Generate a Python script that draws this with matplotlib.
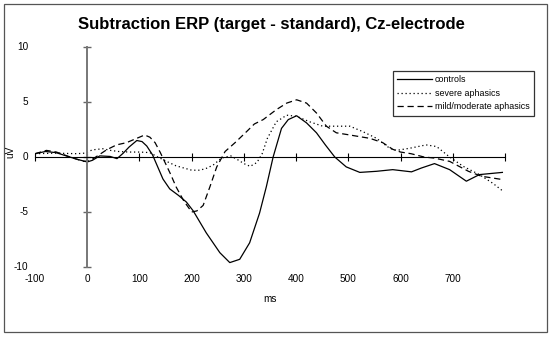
import matplotlib
matplotlib.use("Agg")
import matplotlib.pyplot as plt
import matplotlib.patches as patches
import matplotlib.transforms as mtransforms

plt.rcParams["font.family"] = ["Liberation Sans", "DejaVu Sans"]

# ---------------------------------------------------------------------------
# Data
# ---------------------------------------------------------------------------

ms_controls = [-100, -80, -60, -40, -20, 0, 10, 24, 44, 57, 69, 80, 95, 105,
               114, 125, 135, 145, 158, 175, 190, 203, 228, 254, 273, 292,
               311, 330, 343, 356, 372, 385, 401, 420, 439, 456, 474, 496,
               522, 554, 585, 621, 640, 665, 694, 726, 751, 795]
uv_controls = [0.3, 0.5, 0.4, 0.1, -0.2, -0.45, -0.3, 0.1, 0.05, -0.15, 0.35,
               0.9, 1.5, 1.4, 1.0, 0.2, -0.9, -2.0, -2.9, -3.5, -4.1, -4.9,
               -6.9, -8.7, -9.6, -9.3, -7.8, -5.1, -2.7, 0.0, 2.6, 3.4, 3.75,
               3.1, 2.2, 1.1, 0.0, -0.9, -1.4, -1.3, -1.15, -1.35, -1.0, -0.6,
               -1.15, -2.2, -1.6, -1.4]

ms_severe = [-100, -60, -20, -5, 10, 30, 45, 60, 80, 100, 120, 135, 152, 170,
             185, 200, 216, 230, 242, 257, 275, 290, 300, 312, 325, 335, 345,
             362, 382, 401, 426, 451, 484, 503, 528, 554, 579, 592, 618, 649,
             669, 694, 720, 751, 777, 796]
uv_severe = [0.3, 0.35, 0.3, 0.35, 0.65, 0.75, 0.6, 0.5, 0.45, 0.45, 0.4, 0.0,
             -0.4, -0.8, -1.0, -1.2, -1.2, -1.0, -0.7, -0.1, 0.1, -0.3, -0.6,
             -0.85, -0.5, 0.3, 1.7, 3.2, 3.8, 3.7, 3.2, 2.8, 2.8, 2.8, 2.3,
             1.7, 0.8, 0.6, 0.8, 1.1, 0.95, 0.0, -0.85, -1.6, -2.4, -3.1]

ms_mild = [-100, -78, -59, -33, -7, 5, 18, 37, 56, 75, 95, 110, 120, 130, 140,
           150, 160, 170, 185, 200, 210, 222, 235, 248, 264, 283, 305, 320,
           337, 362, 382, 401, 420, 439, 458, 477, 503, 528, 541, 566, 585,
           600, 620, 645, 665, 694, 730, 755, 795]
uv_mild = [0.3, 0.6, 0.45, 0.0, -0.4, -0.35, 0.05, 0.65, 1.1, 1.3, 1.7, 2.0,
           1.8, 1.3, 0.4, -0.6, -1.6, -2.7, -4.0, -5.0, -4.9, -4.4, -2.7, -0.9,
           0.5, 1.3, 2.3, 3.0, 3.4, 4.3, 4.9, 5.2, 4.9, 4.0, 2.8, 2.2, 2.0,
           1.8, 1.7, 1.3, 0.7, 0.45, 0.3, 0.0, -0.1, -0.4, -1.3, -1.75, -2.05]

series_labels = ["controls", "severe aphasics", "mild/moderate aphasics"]

x_ticks = [-100, 0, 100, 200, 300, 400, 500, 600, 700, 800]
x_tick_labels = ["-100", "0", "100", "200", "300", "400", "500", "600", "700"]
y_ticks = [-10, -5, 0, 5, 10]
y_tick_labels = ["-10", "-5", "0", "5", "10"]

# ---------------------------------------------------------------------------
# Plot
# ---------------------------------------------------------------------------

fig = plt.figure(figsize=(5.51, 3.37), dpi=100)
fig.patch.set_facecolor("white")

# outer chart border
fig.add_artist(patches.Rectangle(
    (4 / 551, 5 / 337), 543 / 551, 328 / 337,
    transform=fig.transFigure, fill=False, edgecolor="#555555", linewidth=0.9))

ax = fig.add_axes([35 / 551, 70 / 337, 470 / 551, 220 / 337])
ax.set_xlim(-100, 800)
ax.set_ylim(-10, 10)

ax.plot(ms_controls, uv_controls, color="black", linestyle="-",
        linewidth=0.9, label=series_labels[0])
ax.plot(ms_severe, uv_severe, color="black", linestyle=(0, (1, 2.2)),
        linewidth=0.9, label=series_labels[1])
ax.plot(ms_mild, uv_mild, color="black", linestyle=(0, (5, 3)),
        linewidth=0.9, label=series_labels[2])

# axes crossing at zero
for side in ["top", "right"]:
    ax.spines[side].set_visible(False)
ax.spines["left"].set_position(("data", 0))
ax.spines["left"].set_color("#777777")
ax.spines["left"].set_linewidth(1.4)
ax.spines["bottom"].set_position(("data", 0))
ax.spines["bottom"].set_color("black")
ax.spines["bottom"].set_linewidth(0.8)

ax.set_xticks(x_ticks)
ax.set_yticks(y_ticks)
ax.tick_params(axis="x", direction="inout", length=6, width=0.8,
               color="black", labelbottom=False)
ax.tick_params(axis="y", direction="inout", length=6, width=1.0,
               color="#666666", labelleft=False)

# tick labels sit at the low edges, like Excel
ylab_tr = mtransforms.blended_transform_factory(ax.transAxes, ax.transData)
for v, s in zip(y_ticks, y_tick_labels):
    ax.text(-0.014, v, s, transform=ylab_tr, ha="right", va="center",
            fontsize=7.2)
xlab_tr = mtransforms.blended_transform_factory(ax.transData, ax.transAxes)
for v, s in zip(x_ticks, x_tick_labels):
    ax.text(v, -0.03, s, transform=xlab_tr, ha="center", va="top",
            fontsize=7.2)

fig.text(270 / 551, 1 - 299 / 337, "ms", ha="center", va="center",
         fontsize=7.2)
fig.text(10 / 551, 1 - 152 / 337, "uV", ha="center", va="center",
         rotation=90, fontsize=7.2)

fig.text(271 / 551, 1 - 24 / 337, "Subtraction ERP (target - standard), Cz-electrode",
         ha="center", va="center", fontsize=12, fontweight="bold")

leg = ax.legend(loc="upper left", bbox_to_anchor=(393 / 551, 1 - 71 / 337),
                bbox_transform=fig.transFigure, fontsize=6.4, frameon=True,
                fancybox=False, borderpad=0.5, handlelength=3.9,
                handletextpad=0.3, labelspacing=0.5, borderaxespad=0)
leg.get_frame().set_edgecolor("black")
leg.get_frame().set_linewidth(0.9)

fig.savefig("out.png", dpi=100)
